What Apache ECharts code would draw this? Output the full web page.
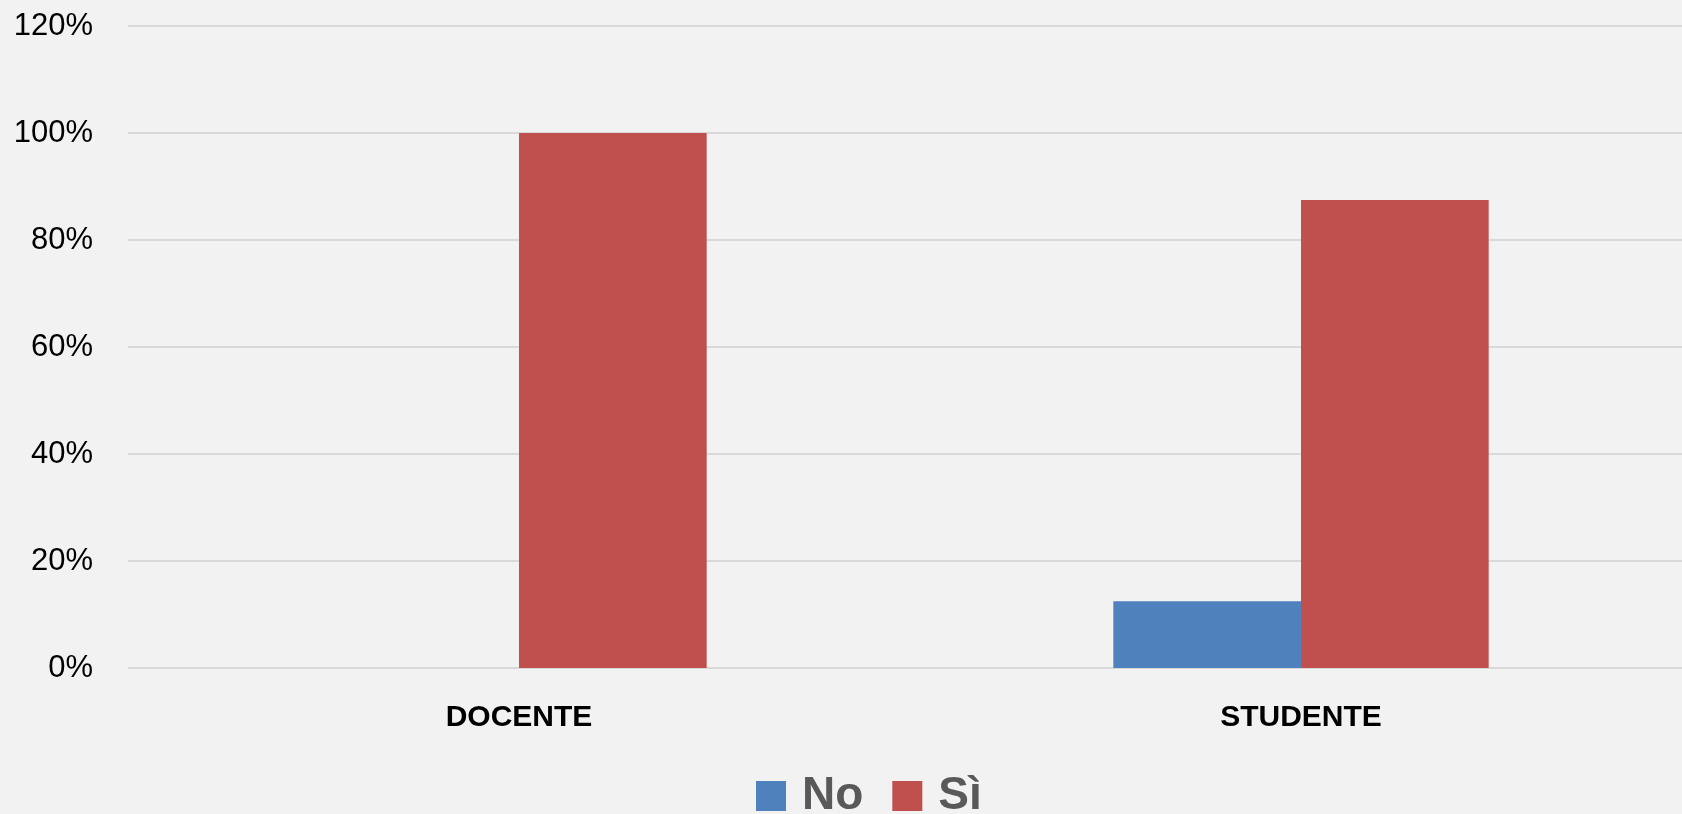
<!DOCTYPE html>
<html>
<head>
<meta charset="utf-8">
<script src="https://cdn.jsdelivr.net/npm/echarts@6/dist/echarts.min.js"></script>
<style>
  html, body { margin: 0; padding: 0; background: #F2F2F2; }
  #chart { width: 1682px; height: 814px; }
</style>
</head>
<body>
<div id="chart"></div>
<script>
// dati
var categorie = ['DOCENTE', 'STUDENTE'];
var serieNo = [0, 12.5];
var serieSi = [100, 87.5];
var nomiSerie = ['No', 'Sì'];

var myChart = echarts.init(document.getElementById('chart'));

var option = {
    backgroundColor: '#F2F2F2',
    animation: false,
    grid: {
        left: 128,
        top: 26,
        width: 1564,
        bottom: 146,
        containLabel: false,
        outerBoundsMode: 'none'
    },
    legend: {
        data: nomiSerie,
        left: 751,
        top: 768,
        icon: 'rect',
        itemWidth: 30,
        itemHeight: 30,
        itemGap: 29,
        textStyle: {
            fontFamily: 'Liberation Sans',
            fontWeight: 'bold',
            fontSize: 46,
            color: '#595959',
            padding: [0, 0, 0, 11]
        }
    },
    xAxis: {
        type: 'category',
        data: categorie,
        axisLine: {show: false},
        axisTick: {show: false},
        axisLabel: {
            margin: 35,
            fontFamily: 'Liberation Sans',
            fontWeight: 'bold',
            fontSize: 30,
            color: '#000000'
        }
    },
    yAxis: {
        type: 'value',
        min: 0,
        max: 120,
        interval: 20,
        axisLine: {show: false},
        axisTick: {show: false},
        axisLabel: {
            formatter: '{value}%',
            margin: 35,
            fontFamily: 'Liberation Sans',
            fontSize: 31,
            color: '#000000'
        },
        splitLine: {
            lineStyle: {color: '#D9D9D9', width: 2}
        }
    },
    series: [
        {
            name: nomiSerie[0],
            type: 'bar',
            data: serieNo,
            barGap: '0%',
            barCategoryGap: '52%',
            itemStyle: {color: '#4F81BD'}
        },
        {
            name: nomiSerie[1],
            type: 'bar',
            data: serieSi,
            itemStyle: {color: '#C0504D'}
        }
    ]
};

myChart.setOption(option);
</script>
</body>
</html>
